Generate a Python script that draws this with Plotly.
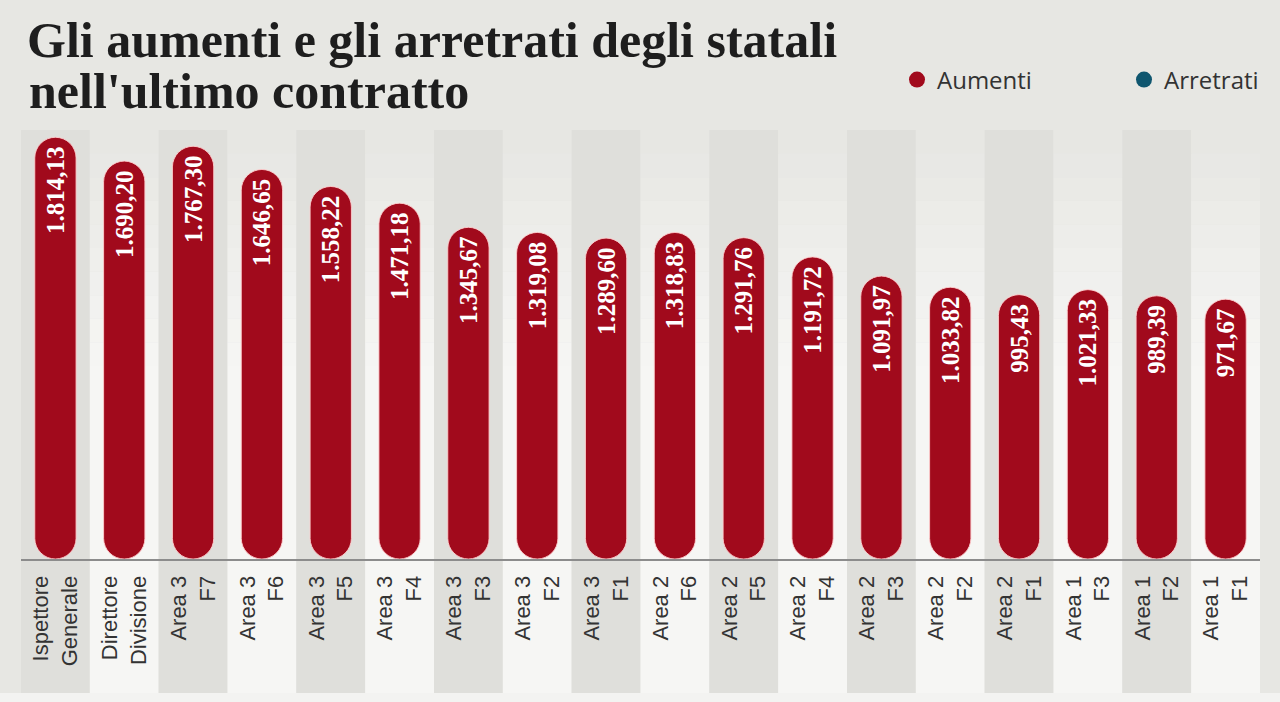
import plotly.graph_objects as go

# ---------------- data ----------------
categories = [
    "Ispettore<br>Generale", "Direttore<br>Divisione",
    "Area 3<br>F7", "Area 3<br>F6", "Area 3<br>F5", "Area 3<br>F4",
    "Area 3<br>F3", "Area 3<br>F2", "Area 3<br>F1",
    "Area 2<br>F6", "Area 2<br>F5", "Area 2<br>F4", "Area 2<br>F3",
    "Area 2<br>F2", "Area 2<br>F1",
    "Area 1<br>F3", "Area 1<br>F2", "Area 1<br>F1",
]
aumenti = [
    1814.13, 1690.20, 1767.30, 1646.65, 1558.22, 1471.18,
    1345.67, 1319.08, 1289.60, 1318.83, 1291.76, 1191.72,
    1091.97, 1033.82, 995.43, 1021.33, 989.39, 971.67,
]
series_names = ["Aumenti", "Arretrati"]

# ---------------- style ----------------
RED = "#a10a1c"
TEAL = "#0f566f"
PAGE_BG = "#e7e7e3"
GRAY_BAND = "#dfdfdb"
AXIS_FLOOR = -380          # value at the baseline of the (non zero-based) axis
AXIS_TOP = 1852

W, H = 1280, 702
ML, MR, MT, MB = 21, 20, 130, 143
plot_h = H - MT - MB
plot_w = W - ML - MR


def it_fmt(v):
    s = f"{v:,.2f}"
    return s.replace(",", "X").replace(".", ",").replace("X", ".")


def py_to_paper(py):
    return 1 + (MT - py) / plot_h


def px_to_paper(px):
    return (px - ML) / plot_w


fig = go.Figure()

fig.add_trace(go.Bar(
    x=categories,
    y=[v - AXIS_FLOOR for v in aumenti],
    base=AXIS_FLOOR,
    customdata=aumenti,
    text=[it_fmt(v) for v in aumenti],
    textposition="inside",
    insidetextanchor="end",
    textangle=-90,
    textfont=dict(family="Liberation Serif", size=25, color="white", weight="bold"),
    marker=dict(color=RED, line=dict(color="rgba(255,205,205,0.9)", width=1),
                cornerradius="50%"),
    width=0.6,
    name="Aumenti",
    legendgroup="Aumenti",
    showlegend=False,
    hovertemplate="%{x}: %{customdata:,.2f}<extra></extra>",
))

# legend entries (circles), each in its own legend box
for name, col, leg in zip(series_names, [RED, TEAL], ["legend", "legend2"]):
    fig.add_trace(go.Scatter(
        x=[None], y=[None], mode="markers", name=name, legendgroup=name,
        legend=leg,
        marker=dict(symbol="circle", size=18, color=col),
    ))

# background column bands
shapes = []
band_bottom = py_to_paper(693)
n = len(categories)
steps = 10
for i in range(n):
    if i % 2 == 0:
        shapes.append(dict(type="rect", xref="x", yref="paper",
                           x0=i - 0.5, x1=i + 0.5, y0=band_bottom, y1=1.0,
                           fillcolor=GRAY_BAND, line=dict(width=0), layer="below"))
    else:
        split = 0.45
        shapes.append(dict(type="rect", xref="x", yref="paper",
                           x0=i - 0.5, x1=i + 0.5, y0=band_bottom, y1=split,
                           fillcolor="#f6f6f4", line=dict(width=0), layer="below"))
        c0 = (0xf6, 0xf6, 0xf4)
        c1 = (0xe6, 0xe6, 0xe2)
        for s in range(steps):
            t = (s + 0.5) / steps
            c = tuple(round(a + (b - a) * t) for a, b in zip(c0, c1))
            shapes.append(dict(type="rect", xref="x", yref="paper",
                               x0=i - 0.5, x1=i + 0.5,
                               y0=split + (1 - split) * s / steps,
                               y1=split + (1 - split) * (s + 1) / steps,
                               fillcolor="rgb(%d,%d,%d)" % c,
                               line=dict(width=0), layer="below"))
# light strip at the very bottom of the page
shapes.append(dict(type="rect", xref="paper", yref="paper",
                   x0=px_to_paper(0), x1=px_to_paper(W),
                   y0=py_to_paper(H), y1=band_bottom,
                   fillcolor="#f3f3f1", line=dict(width=0), layer="below"))

title_font = dict(family="Liberation Serif", size=50, color="#1e1e1e", weight="bold")
legend_font = dict(family="Open Sans", size=24, color="#333333")

fig.update_layout(
    width=W, height=H,
    margin=dict(l=ML, r=MR, t=MT, b=MB),
    paper_bgcolor=PAGE_BG,
    plot_bgcolor=PAGE_BG,
    separators=",.",
    shapes=shapes,
    title=dict(
        text="Gli aumenti e gli arretrati degli statali",
        font=title_font,
        xref="container", x=27 / W, xanchor="left",
        yref="container", y=1 - 39 / H, yanchor="middle",
    ),
    annotations=[dict(
        text="nell'ultimo contratto",
        font=title_font,
        xref="paper", x=px_to_paper(27), xanchor="left",
        yref="paper", y=py_to_paper(91), yanchor="middle",
        showarrow=False,
    )],
    legend=dict(
        orientation="h",
        x=px_to_paper(922 - 25), xanchor="left",
        y=py_to_paper(80), yanchor="middle",
        font=legend_font,
        bgcolor="rgba(0,0,0,0)",
        itemclick=False, itemdoubleclick=False,
    ),
    legend2=dict(
        orientation="h",
        x=px_to_paper(1149 - 25), xanchor="left",
        y=py_to_paper(80), yanchor="middle",
        font=legend_font,
        bgcolor="rgba(0,0,0,0)",
        itemclick=False, itemdoubleclick=False,
    ),
    xaxis=dict(
        type="category",
        tickangle=-90,
        tickfont=dict(family="Liberation Sans", size=22, color="#333333"),
        showline=True, linecolor="#8c8c8c", linewidth=2,
        showgrid=False, zeroline=False, ticks="",
        ticklabelstandoff=6,
        fixedrange=True,
    ),
    yaxis=dict(
        range=[AXIS_FLOOR, AXIS_TOP],
        visible=False, showgrid=False, zeroline=False, fixedrange=True,
    ),
    showlegend=True,
)

fig.write_html("out.html")
